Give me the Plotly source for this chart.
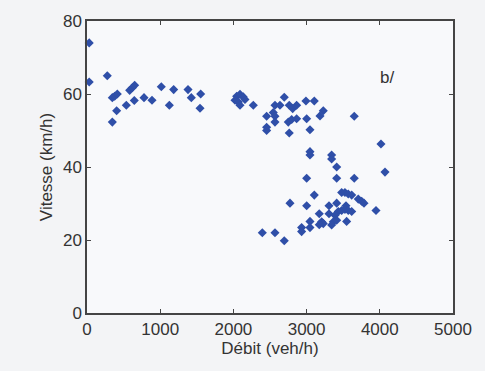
import plotly.graph_objects as go

# Débit (veh/h) and Vitesse (km/h)
debit = [
    30, 30, 277, 346, 378, 414, 405, 346, 537, 583, 619, 651, 646, 779, 888, 1015, 1125, 1184, 1380, 1425, 1553, 1544,
    2045, 2090, 2135, 2158, 2022, 2067, 2090, 2272, 2695, 2568, 2636, 2454, 2545, 2568, 2568, 2454, 2454,
    2763, 2810, 2864, 2750, 2796, 2864, 2763, 2991, 3105, 3001, 3046, 3183, 3228, 3651,
    4016, 3046, 3046, 3342, 3342, 3411, 4071, 3001, 3411, 3651,
    3105, 2773, 3001, 3479, 3524, 3569, 3616, 3706, 3752, 3784, 3948, 3411, 3306, 3538, 3173, 3306,
    3433, 3479, 3524, 3569, 3616, 3388, 3046, 3206, 3228, 3173, 3365, 3342, 3547, 2932, 2932, 3046, 3411,
    2395, 2568, 2695,
]
vitesse = [
    74, 63.3, 65, 59, 59.4, 60, 55.4, 52.3, 56.9, 61, 61.7, 62.4, 58.2, 59, 58.3, 62, 56.9, 61.2, 61.2, 59, 60, 56.1,
    59.4, 59.9, 59.2, 58.5, 58.3, 57.8, 56.9, 56.9, 59.1, 56.9, 56.9, 53.9, 54.9, 53.9, 52.3, 50.9, 50.0,
    56.9, 56.0, 56.9, 52.3, 53.0, 53.2, 49.3, 58.1, 58.1, 53.2, 50.2, 54.0, 55.4, 53.9,
    46.3, 44.2, 43.3, 43.3, 42.2, 40.0, 38.6, 36.9, 36.9, 36.9,
    32.3, 30.1, 29.4, 33, 33, 32.6, 32.3, 31.2, 30.6, 30.1, 28.1, 30.1, 29.4, 29.4, 27.2, 27.2,
    27.8, 28.1, 28.4, 28.1, 27.8, 26.8, 25.1, 25, 24.5, 24.2, 25, 24.1, 25.1, 23.4, 22.3, 23.4, 25.4,
    22, 22, 19.8,
]

x_ticks = [0, 1000, 2000, 3000, 4000, 5000]
y_ticks = [0, 20, 40, 60, 80]
panel_label = "b/"

fig = go.Figure()
fig.add_trace(go.Scatter(
    x=debit, y=vitesse, mode="markers",
    marker=dict(symbol="diamond", size=7, color="#2f4fa8", line=dict(width=0)),
    cliponaxis=False, showlegend=False,
))

font = dict(family="Liberation Sans, Arial, sans-serif", size=17, color="#333333")
axis_common = dict(
    showline=True, linecolor="#444444", linewidth=1.5, mirror="ticks",
    ticks="inside", ticklen=4, tickcolor="#444444", tickwidth=1,
    showgrid=False, zeroline=False, tickfont=font,
)
fig.update_xaxes(range=[0, 5000], tickvals=x_ticks, ticktext=[str(v) for v in x_ticks],
                 title=dict(text="Débit (veh/h)", font=font, standoff=4), **axis_common)
fig.update_yaxes(range=[0, 80], tickvals=y_ticks, ticktext=[str(v) for v in y_ticks],
                 title=dict(text="Vitesse (km/h)", font=font, standoff=6), **axis_common)

fig.add_annotation(x=4094, y=64.4, text=panel_label, showarrow=False,
                   font=dict(family="Liberation Sans, Arial, sans-serif", size=17, color="#333333"))

fig.update_layout(
    width=485, height=371,
    margin=dict(l=87, r=32, t=15, b=58),
    paper_bgcolor="#f3f4f6", plot_bgcolor="#f8f9fb",
    font=font,
)
fig.write_html("out.html")
